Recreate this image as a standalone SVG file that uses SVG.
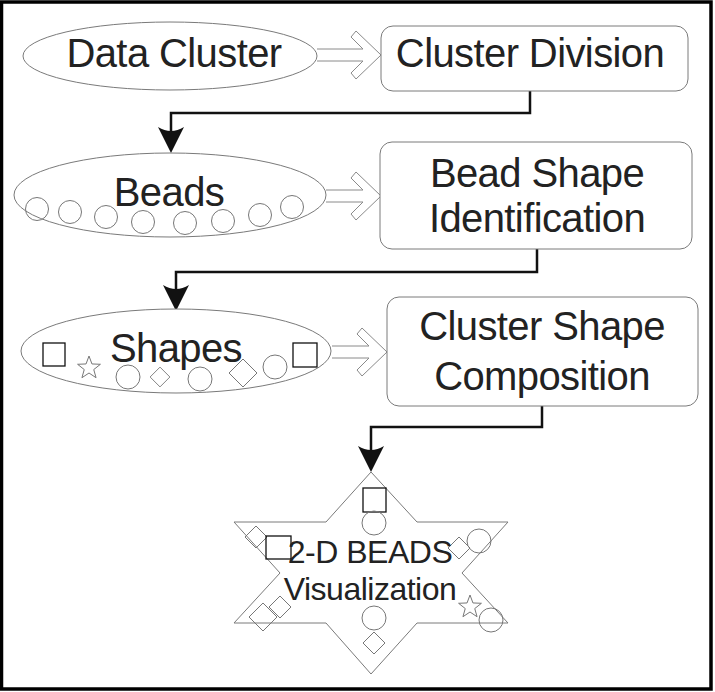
<svg xmlns="http://www.w3.org/2000/svg" width="715" height="692" viewBox="0 0 715 692">
<style>
.node{fill:#fff;stroke:#7a7a7a;stroke-width:1}
.lbl{font-family:"Liberation Sans",Arial,sans-serif;font-size:40px;letter-spacing:-0.6px;fill:#222;text-anchor:middle}
.sm{font-size:32px;letter-spacing:-0.5px}
.bead{fill:none;stroke:#777;stroke-width:1}
.sq{fill:none;stroke:#111;stroke-width:1.3}
.hollow{fill:#fff;stroke:#8a8a8a;stroke-width:1}
.conn{fill:none;stroke:#111;stroke-width:2.5}
.head{fill:#111;stroke:none}
</style>
<defs>
<polygon id="s5" points="0,-12 2.94,-4.05 11.41,-3.71 4.76,1.55 7.05,9.71 0,5 -7.05,9.71 -4.76,1.55 -11.41,-3.71 -2.94,-4.05"/>
<polygon id="dm" points="0,-11 11,0 0,11 -11,0"/>
<polygon id="dl" points="0,-14 14,0 0,14 -14,0"/>
<path id="ah" d="M0,0 L-13,-26 Q0,-18 13,-26 Z"/>
</defs>
<rect x="1.5" y="2" width="709.5" height="687" fill="#fff" stroke="#000" stroke-width="3.5"/>

<g id="connectors">
<path class="hollow" d="M317,49 L363,49 L351,37 L356,31 L381,55 L356,79 L351,73 L363,61 L317,61"/>
<path class="hollow" d="M326,190 L363,190 L351,178 L356,172 L381,196 L356,220 L351,214 L363,202 L326,202"/>
<path class="hollow" d="M332,346 L369,346 L357,334 L362,328 L387,352 L362,376 L357,370 L369,358 L332,358"/>
<path class="conn" d="M530,91 V113 H171 V133"/>
<use href="#ah" class="head" transform="translate(171,153)"/>
<path class="conn" d="M537,249 V272 H176 V292"/>
<use href="#ah" class="head" transform="translate(176,311)"/>
<path class="conn" d="M542,406 V427 H371 V450"/>
<use href="#ah" class="head" transform="translate(371,472)"/>
</g>

<g id="data-cluster">
<ellipse class="node" cx="170" cy="56" rx="147" ry="34"/>
<text class="lbl" x="174" y="67">Data Cluster</text>
</g>

<g id="cluster-division">
<rect class="node" x="381" y="26" width="307" height="65" rx="12"/>
<text class="lbl" x="530" y="67">Cluster Division</text>
</g>

<g id="beads">
<ellipse class="node" cx="170" cy="195" rx="156" ry="42"/>
<text class="lbl" x="169" y="206">Beads</text>
<circle class="bead" cx="37" cy="209" r="11.5"/>
<circle class="bead" cx="70" cy="212" r="11.5"/>
<circle class="bead" cx="106" cy="217" r="11.5"/>
<circle class="bead" cx="143" cy="222" r="11.5"/>
<circle class="bead" cx="185" cy="223" r="11.5"/>
<circle class="bead" cx="223" cy="221" r="11.5"/>
<circle class="bead" cx="260" cy="215" r="11.5"/>
<circle class="bead" cx="292" cy="207" r="11.5"/>
</g>

<g id="bead-shape-identification">
<rect class="node" x="380" y="142" width="312" height="107" rx="12"/>
<text class="lbl" x="537" y="187">Bead Shape</text>
<text class="lbl" x="537" y="232">Identification</text>
</g>

<g id="shapes">
<ellipse class="node" cx="176" cy="351" rx="155" ry="42"/>
<text class="lbl" x="176" y="362">Shapes</text>
<rect class="sq" x="43" y="343" width="22" height="23"/>
<use href="#s5" class="bead" transform="translate(89,368)"/>
<circle class="bead" cx="128" cy="377" r="12"/>
<use href="#dm" class="bead" transform="translate(160,377) scale(0.9)"/>
<circle class="bead" cx="200" cy="379" r="12"/>
<use href="#dl" class="bead" transform="translate(243,373)"/>
<circle class="bead" cx="275" cy="367" r="12"/>
<rect class="sq" x="293" y="343" width="24" height="24"/>
</g>

<g id="cluster-shape-composition">
<rect class="node" x="387" y="297" width="311" height="109" rx="12"/>
<text class="lbl" x="542" y="340">Cluster Shape</text>
<text class="lbl" x="542" y="390">Composition</text>
</g>

<g id="beads-visualization">
<polygon class="node" points="371,472 417,522 508,522 462,573 508,623 417,623 371,674 326,623 234,623 280,573 234,522 326,522"/>
<rect class="sq" x="363" y="488" width="23" height="24"/>
<circle class="bead" cx="374" cy="523" r="12"/>
<use href="#dm" class="bead" transform="translate(256,537)"/>
<use href="#dm" class="bead" transform="translate(459,548)"/>
<circle class="bead" cx="479" cy="541" r="12"/>
<use href="#s5" class="bead" transform="translate(470,607)"/>
<circle class="bead" cx="491" cy="620" r="12"/>
<use href="#dl" class="bead" transform="translate(263,617)"/>
<use href="#dm" class="bead" transform="translate(280,607)"/>
<circle class="bead" cx="374" cy="618" r="12"/>
<use href="#dm" class="bead" transform="translate(374,643)"/>
<rect class="sq" x="266" y="536" width="25" height="23"/>
<text class="lbl sm" x="370" y="563">2-D BEADS</text>
<text class="lbl sm" x="370" y="600">Visualization</text>
</g>
</svg>
